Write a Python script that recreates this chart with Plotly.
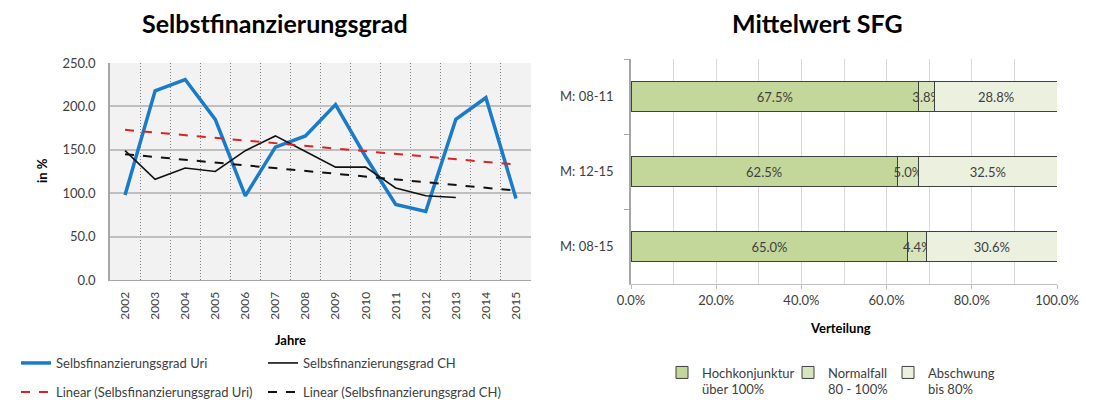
import plotly.graph_objects as go

# ---------------- data ----------------
years = ["2002", "2003", "2004", "2005", "2006", "2007", "2008",
         "2009", "2010", "2011", "2012", "2013", "2014", "2015"]
sfg_uri = [98, 218, 231, 185, 97, 153, 166, 202, 142, 87, 79, 185, 210, 94]
ch_years = ["2002", "2003", "2004", "2005", "2006", "2007",
            "2008", "2009", "2010", "2011", "2012", "2013"]
sfg_ch = [149, 116, 129, 125, 149, 166, 148, 130, 130, 106, 97, 95]
trend_years = ["2002", "2015"]
trend_uri = [173, 133]
trend_ch = [145, 103]

periods = ["M: 08-11", "M: 12-15", "M: 08-15"]
hochkonjunktur = [67.5, 62.5, 65.0]
normalfall = [3.8, 5.0, 4.4]
abschwung = [28.8, 32.5, 30.6]

W, H = 1093, 400
FONT = "Lato"
TXT = "#404040"


def px(x):
    return x / W


def py(y):
    return 1 - y / H


fig = go.Figure()

# ---------------- left chart ----------------
fig.add_trace(go.Scatter(x=years, y=sfg_uri, mode="lines", name="Selbsfinanzierungsgrad Uri",
                         line=dict(color="#1a7bcb", width=3.5), xaxis="x", yaxis="y",
                         legend="legend"))
fig.add_trace(go.Scatter(x=ch_years, y=sfg_ch, mode="lines", name="Selbsfinanzierungsgrad CH",
                         line=dict(color="#111111", width=1.6), xaxis="x", yaxis="y",
                         legend="legend2"))
fig.add_trace(go.Scatter(x=trend_years, y=trend_uri, mode="lines",
                         name="Linear (Selbsfinanzierungsgrad Uri)",
                         line=dict(color="#dd2222", width=2, dash="dash"), xaxis="x", yaxis="y",
                         legend="legend3"))
fig.add_trace(go.Scatter(x=trend_years, y=trend_ch, mode="lines",
                         name="Linear (Selbsfinanzierungsgrad CH)",
                         line=dict(color="#111111", width=2, dash="dash"), xaxis="x", yaxis="y",
                         legend="legend4"))

# ---------------- right chart ----------------
bar_common = dict(orientation="h", xaxis="x2", yaxis="y2",
                  texttemplate="%{x:.1f}%", textposition="inside",
                  insidetextanchor="middle", textangle=0,
                  textfont=dict(size=13, color=TXT, family=FONT))
fig.add_trace(go.Bar(y=periods, x=hochkonjunktur, name="Hochkonjunktur<br>über 100%",
                     marker=dict(color="#c4d79b", line=dict(color="#404040", width=1)),
                     legend="legend5", **bar_common))
fig.add_trace(go.Bar(y=periods, x=normalfall, name="Normalfall<br>80 - 100%",
                     marker=dict(color="#d8e4bc", line=dict(color="#404040", width=1)),
                     legend="legend6", **bar_common))
fig.add_trace(go.Bar(y=periods, x=abschwung, name="Abschwung<br>bis 80%",
                     marker=dict(color="#ebf1de", line=dict(color="#404040", width=1)),
                     legend="legend7", **bar_common))

lx0, lx1, ly0, ly1 = 110, 531, 63, 280
rx0, rx1, ry0, ry1 = 631, 1057, 59, 284

fig.update_layout(
    width=W, height=H,
    margin=dict(l=0, r=0, t=0, b=0, autoexpand=False),
    paper_bgcolor="white", plot_bgcolor="white",
    showlegend=True,
    font=dict(family=FONT, color=TXT, size=12),
    barmode="stack", bargap=0.61,
    uniformtext=dict(minsize=13, mode="show"),
    xaxis=dict(domain=[px(lx0), px(lx1)], anchor="y", type="category",
               categoryorder="array", categoryarray=years, range=[-0.5, 13.5],
               tickson="boundaries", ticks="", tickangle=-90,
               tickfont=dict(size=12, color=TXT), ticklabelstandoff=6,
               showgrid=True, gridcolor="#808080", griddash="1px,2px", gridwidth=1,
               showline=True, linecolor="#a6a6a6", linewidth=1, zeroline=False),
    yaxis=dict(domain=[py(ly1), py(ly0)], anchor="x", range=[0, 250], dtick=50,
               tickformat=".1f", ticks="", tickfont=dict(size=13, color=TXT),
               ticklabelstandoff=10,
               showgrid=True, gridcolor="#bfbfbf", gridwidth=1.5,
               showline=True, linecolor="#a6a6a6", linewidth=1.5, zeroline=False),
    xaxis2=dict(domain=[px(rx0), px(rx1)], anchor="y2", range=[0, 100], dtick=20,
                tickformat=".1f", ticksuffix="%", tickfont=dict(size=13, color=TXT),
                ticks="outside", ticklen=4, tickcolor="#bfbfbf",
                showgrid=True, gridcolor="#d9d9d9", gridwidth=1,
                minor=dict(dtick=10, showgrid=True, gridcolor="#d9d9d9", gridwidth=1),
                showline=True, linecolor="#bfbfbf", zeroline=False),
    yaxis2=dict(domain=[py(ry1), py(ry0)], anchor="x2", type="category",
                categoryorder="array", categoryarray=periods, autorange="reversed",
                tickson="boundaries", ticks="outside", ticklen=5, tickcolor="#a6a6a6",
                tickfont=dict(size=13, color=TXT), ticklabelstandoff=13,
                showgrid=False, showline=True, linecolor="#a6a6a6", linewidth=1.5),
    shapes=[dict(type="rect", xref="x domain", yref="y domain", x0=0, x1=1, y0=0, y1=1,
                 fillcolor="#f2f2f2", line=dict(width=0), layer="below")],
)

leg_common = dict(orientation="h", xanchor="left", yanchor="middle",
                  bgcolor="rgba(0,0,0,0)", font=dict(size=13, color=TXT, family=FONT))
fig.update_layout(
    legend=dict(x=px(16), y=py(363), **leg_common),
    legend2=dict(x=px(263), y=py(363), **leg_common),
    legend3=dict(x=px(16), y=py(392), **leg_common),
    legend4=dict(x=px(263), y=py(392), **leg_common),
    legend5=dict(x=px(662), y=py(381), valign="top", **leg_common),
    legend6=dict(x=px(788), y=py(381), valign="top", **leg_common),
    legend7=dict(x=px(888), y=py(381), valign="top", **leg_common),
)

ann = [
    dict(text="<b>Selbstfinanzierungsgrad</b>", x=px(275), y=py(23), font=dict(size=25, color="#000000")),
    dict(text="<b>Mittelwert SFG</b>", x=px(817), y=py(23), font=dict(size=25, color="#000000")),
    dict(text="<b>in %</b>", x=px(42), y=py(171), textangle=-90, font=dict(size=13, color="#000000")),
    dict(text="<b>Jahre</b>", x=px(290), y=py(340), font=dict(size=13, color="#000000")),
    dict(text="<b>Verteilung</b>", x=px(840), y=py(328), font=dict(size=13, color="#000000")),
]
for a in ann:
    a.update(xref="paper", yref="paper", showarrow=False, xanchor="center", yanchor="middle")
fig.update_layout(annotations=ann)

fig.write_html("out.html", config={"displayModeBar": False},
               post_script="document.body.style.margin='0';")
